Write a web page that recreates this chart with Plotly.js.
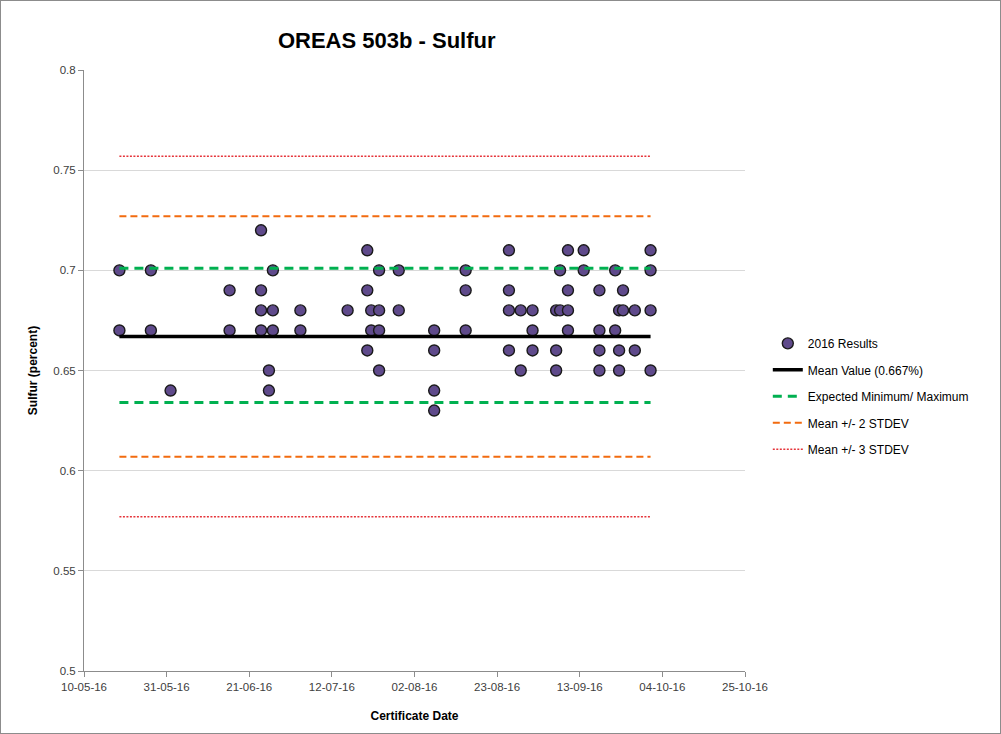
<!DOCTYPE html>
<html>
<head>
<meta charset="utf-8">
<script src="https://cdn.plot.ly/plotly-3.0.1.min.js"></script>
<style>
  html, body { margin: 0; padding: 0; background: #fff; }
  #wrap { position: relative; width: 1001px; height: 734px; }
  #chart { width: 1001px; height: 734px; }
  #frame { position: absolute; left: 0; top: 0; width: 1001px; height: 734px; box-sizing: border-box; border: 1px solid #8c8c8c; pointer-events: none; }
</style>
</head>
<body>
<div id="wrap"><div id="chart"></div><div id="frame"></div></div>
<script>
// ---- data ----
const resultDates = [
  '2016-05-19','2016-05-19',
  '2016-05-27','2016-05-27',
  '2016-06-01',
  '2016-06-16','2016-06-16',
  '2016-06-24','2016-06-24','2016-06-24','2016-06-24',
  '2016-06-26','2016-06-26',
  '2016-06-27','2016-06-27','2016-06-27',
  '2016-07-04','2016-07-04',
  '2016-07-16',
  '2016-07-21','2016-07-21','2016-07-21',
  '2016-07-22','2016-07-22',
  '2016-07-24','2016-07-24','2016-07-24','2016-07-24',
  '2016-07-29','2016-07-29',
  '2016-08-07','2016-08-07','2016-08-07','2016-08-07',
  '2016-08-15','2016-08-15','2016-08-15',
  '2016-08-26','2016-08-26','2016-08-26','2016-08-26',
  '2016-08-29','2016-08-29',
  '2016-09-01','2016-09-01','2016-09-01',
  '2016-09-07','2016-09-07','2016-09-07',
  '2016-09-08','2016-09-08',
  '2016-09-10','2016-09-10','2016-09-10','2016-09-10',
  '2016-09-14','2016-09-14',
  '2016-09-18','2016-09-18','2016-09-18','2016-09-18',
  '2016-09-22','2016-09-22',
  '2016-09-23','2016-09-23','2016-09-23',
  '2016-09-24','2016-09-24',
  '2016-09-27','2016-09-27',
  '2016-10-01','2016-10-01','2016-10-01','2016-10-01'
];
const resultValues = [
  0.70,0.67,
  0.70,0.67,
  0.64,
  0.69,0.67,
  0.72,0.69,0.68,0.67,
  0.65,0.64,
  0.70,0.68,0.67,
  0.68,0.67,
  0.68,
  0.71,0.69,0.66,
  0.68,0.67,
  0.70,0.68,0.67,0.65,
  0.70,0.68,
  0.67,0.66,0.64,0.63,
  0.70,0.69,0.67,
  0.71,0.69,0.68,0.66,
  0.68,0.65,
  0.68,0.67,0.66,
  0.68,0.66,0.65,
  0.70,0.68,
  0.71,0.69,0.68,0.67,
  0.71,0.70,
  0.69,0.67,0.66,0.65,
  0.70,0.67,
  0.68,0.66,0.65,
  0.69,0.68,
  0.68,0.66,
  0.71,0.70,0.68,0.65
];
const lineSpan = ['2016-05-19', '2016-10-01'];
const meanValue = 0.667;
const expectedMinMax = [0.634, 0.701];
const twoSD = [0.607, 0.727];
const threeSD = [0.577, 0.757];
const seriesNames = ['2016 Results', 'Mean Value (0.667%)', 'Expected Minimum/ Maximum', 'Mean +/- 2 STDEV', 'Mean +/- 3 STDEV'];
const xRange = ['2016-05-10', '2016-10-25'];
const yRange = [0.5, 0.8];

const FONT = '"Liberation Sans Narrow", "Arial Narrow", "Liberation Sans", Arial, sans-serif';

function pairLine(vals) {
  return {
    x: [lineSpan[0], lineSpan[1], null, lineSpan[0], lineSpan[1]],
    y: [vals[1], vals[1], null, vals[0], vals[0]]
  };
}

const traces = [
  {
    type: 'scatter', mode: 'markers', name: seriesNames[0], legendgroup: 'a',
    x: resultDates, y: resultValues,
    marker: { symbol: 'circle', size: 11, color: '#5f4a8b', line: { color: '#1a1a1a', width: 1.4 } }
  },
  Object.assign({
    type: 'scatter', mode: 'lines', name: seriesNames[1], legendgroup: 'b',
    line: { color: '#000000', width: 3.5 }
  }, { x: lineSpan, y: [meanValue, meanValue] }),
  Object.assign({
    type: 'scatter', mode: 'lines', name: seriesNames[2], legendgroup: 'c', connectgaps: false,
    line: { color: '#00b050', width: 3, dash: '9px,6px' }
  }, pairLine(expectedMinMax)),
  Object.assign({
    type: 'scatter', mode: 'lines', name: seriesNames[3], legendgroup: 'd', connectgaps: false,
    line: { color: '#f26b0f', width: 2, dash: '7px,4px' }
  }, pairLine(twoSD)),
  Object.assign({
    type: 'scatter', mode: 'lines', name: seriesNames[4], legendgroup: 'e', connectgaps: false,
    line: { color: '#e5343a', width: 1.5, dash: '2px,1.5px' }
  }, pairLine(threeSD))
];

const layout = {
  width: 1001, height: 734,
  margin: { l: 84, r: 256, t: 70, b: 63 },
  paper_bgcolor: '#ffffff', plot_bgcolor: '#ffffff',
  font: { family: FONT, size: 12, color: '#404040' },
  showlegend: true,
  title: {
    text: '<b>OREAS 503b - Sulfur</b>',
    font: { family: FONT, size: 22, color: '#000000' },
    xref: 'paper', x: 0.458, xanchor: 'center',
    yref: 'container', y: 1 - 40 / 734, yanchor: 'middle'
  },
  xaxis: {
    type: 'date', range: xRange,
    tick0: xRange[0], dtick: 21 * 86400000, tickformat: '%d-%m-%y',
    showgrid: false, zeroline: false,
    showline: true, linecolor: '#8c8c8c', linewidth: 1,
    ticks: 'outside', ticklen: 5, tickcolor: '#8c8c8c',
    tickfont: { family: FONT, size: 11.5, color: '#404040' },
    title: { text: '<b>Certificate Date</b>', font: { family: FONT, size: 12, color: '#000000' }, standoff: 19 }
  },
  yaxis: {
    range: yRange, dtick: 0.05, tick0: 0.5,
    showgrid: true, gridcolor: '#d9d9d9', gridwidth: 1,
    zeroline: false,
    showline: true, linecolor: '#8c8c8c', linewidth: 1,
    ticks: 'outside', ticklen: 5, tickcolor: '#8c8c8c',
    tickfont: { family: FONT, size: 11.5, color: '#404040' },
    title: { text: '<b>Sulfur (percent)</b>', font: { family: FONT, size: 12, color: '#000000' }, standoff: 13 }
  },
  legend: {
    x: 1.0345, xanchor: 'left', y: 0.457, yanchor: 'middle',
    font: { family: FONT, size: 12, color: '#000000' },
    traceorder: 'grouped', tracegroupgap: 7.5,
    bgcolor: 'rgba(0,0,0,0)', borderwidth: 0
  }
};

Plotly.newPlot('chart', traces, layout, { displayModeBar: false, staticPlot: true });
</script>
</body>
</html>
